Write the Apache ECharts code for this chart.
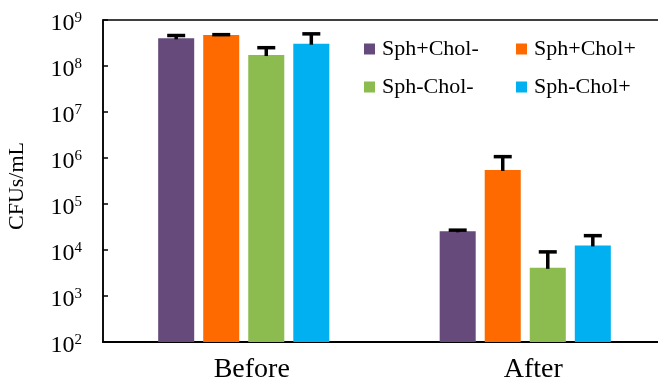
<!DOCTYPE html>
<html>
<head>
<meta charset="utf-8">
<script src="https://cdn.jsdelivr.net/npm/echarts@6/dist/echarts.min.js"></script>
<style>html,body{margin:0;padding:0;background:#fff}#c{width:658px;height:379px}</style>
</head>
<body>
<div id="c"></div>
<script>
var categories = ['Before', 'After'];
var seriesNames = ['Sph+Chol-', 'Sph+Chol+', 'Sph-Chol-', 'Sph-Chol+'];
var valsSphPlusCholMinus = [4.0e8, 2.55e4];
var valsSphPlusCholPlus = [4.7e8, 5.5e5];
var valsSphMinusCholMinus = [1.73e8, 4.1e3];
var valsSphMinusCholPlus = [3.06e8, 1.26e4];
var upperSphPlusCholMinus = [4.6e8, 2.7e4];
var upperSphPlusCholPlus = [4.8e8, 1.07e6];
var upperSphMinusCholMinus = [2.5e8, 9.1e3];
var upperSphMinusCholPlus = [5.0e8, 2.05e4];
var yMin = 1e2, yMax = 1e9;

var values = [valsSphPlusCholMinus, valsSphPlusCholPlus, valsSphMinusCholMinus, valsSphMinusCholPlus];
var uppers = [upperSphPlusCholMinus, upperSphPlusCholPlus, upperSphMinusCholMinus, upperSphMinusCholPlus];
var colors = ['#654A7B', '#FF6A00', '#8CBB50', '#00B0F0'];
var FONT = "'Liberation Serif','Times New Roman',serif";
var BAR_PCT = 0.128, GAP_PCT = 0.25;

var errData = [];
for (var s = 0; s < 4; s++) {
  for (var c = 0; c < categories.length; c++) {
    errData.push([c, s, values[s][c], uppers[s][c]]);
  }
}

var series = seriesNames.map(function (n, i) {
  return {
    name: n, type: 'bar', data: values[i],
    barWidth: (BAR_PCT * 100) + '%', barGap: (GAP_PCT * 100) + '%',
    itemStyle: { color: colors[i] }
  };
});
series.push({
  type: 'custom', z: 10,
  data: errData,
  encode: { x: 0, y: 2 },
  renderItem: function (params, api) {
    var ci = api.value(0), si = api.value(1);
    var band = api.size([1, 0])[0];
    var bw = band * BAR_PCT, gap = bw * GAP_PCT;
    var total = 4 * bw + 3 * gap;
    var off = -total / 2 + bw / 2 + si * (bw + gap);
    var pBase = api.coord([ci, api.value(2)]);
    var pTop = api.coord([ci, api.value(3)]);
    var x = pBase[0] + off;
    var capHalf = 9;
    return {
      type: 'group',
      children: [
        { type: 'line', shape: { x1: x, y1: pBase[1] + 1, x2: x, y2: pTop[1] }, style: { stroke: '#000', lineWidth: 3.5 } },
        { type: 'line', shape: { x1: x - capHalf, y1: pTop[1], x2: x + capHalf, y2: pTop[1] }, style: { stroke: '#000', lineWidth: 3.5 } }
      ]
    };
  }
});

var chart = echarts.init(document.getElementById('c'));
chart.setOption({
  animation: false,
  color: colors,
  grid: { left: 103, top: 20, right: -8, bottom: 37, outerBoundsMode: 'none', containLabel: false, show: true, borderColor: '#000', borderWidth: 1.5, backgroundColor: 'transparent' },
  legend: {
    data: seriesNames, left: 364, top: 38, width: 300, padding: 0,
    itemWidth: 11, itemHeight: 11, itemGap: 16,
    icon: 'rect',
    textStyle: { fontFamily: FONT, fontSize: 22, color: '#000', width: 118, lineHeight: 18, padding: [0, 0, 0, 2] }
  },
  xAxis: {
    type: 'category', data: categories,
    axisLine: { lineStyle: { color: '#000', width: 2 } },
    axisTick: { show: false },
    axisLabel: { fontFamily: FONT, fontSize: 28, color: '#000', margin: 14, padding: [0, 0, 0, 16] }
  },
  yAxis: {
    type: 'log', logBase: 10, min: yMin, max: yMax,
    name: 'CFUs/mL', nameLocation: 'middle', nameGap: 75, nameRotate: 90,
    nameTextStyle: { fontFamily: FONT, fontSize: 22, color: '#000', padding: [0, 10, 0, 0] },
    axisLine: { show: true, lineStyle: { color: '#000', width: 1.5 } },
    axisTick: { show: true, inside: true, length: 5, lineStyle: { color: '#000', width: 1.5 } },
    splitLine: { show: false },
    axisLabel: {
      margin: 21, color: '#000', padding: [7, 0, 0, 0],
      formatter: function (v) { return '{b|10}{s|' + Math.round(Math.log10(v)) + '}'; },
      rich: {
        b: { fontFamily: FONT, fontSize: 24, color: '#000', lineHeight: 26 },
        s: { fontFamily: FONT, fontSize: 15, color: '#000', lineHeight: 15, verticalAlign: 'top' }
      }
    }
  },
  series: series
});
</script>
</body>
</html>
